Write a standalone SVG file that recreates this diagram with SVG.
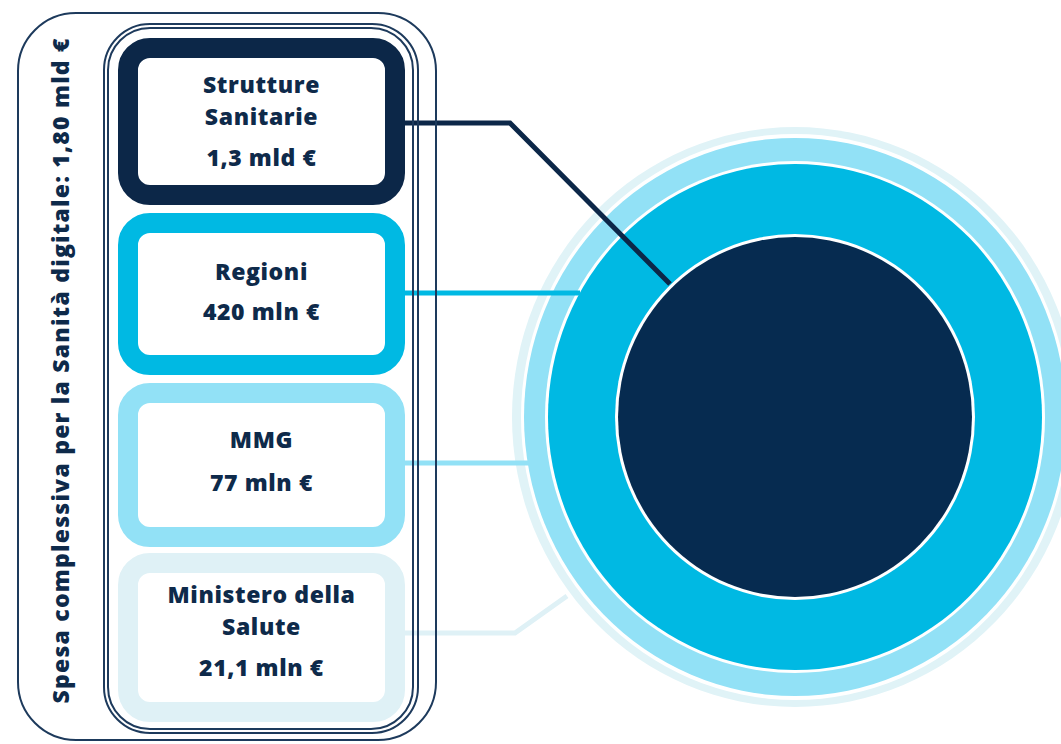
<svg xmlns="http://www.w3.org/2000/svg" width="1061" height="744" viewBox="0 0 1061 744">
<style>
.frame{fill:none;stroke:#1d3a5c;stroke-width:2}
.box{fill:#ffffff;stroke-width:20}
.lbl{font-family:"Open Sans","DejaVu Sans",sans-serif;font-weight:800;font-size:23px;fill:#0e2a4a;text-anchor:middle;letter-spacing:0.6px}
.conn{fill:none;stroke-width:5;stroke-linejoin:miter}
</style>
<rect width="1061" height="744" fill="#ffffff"/>
<g id="rings">
<ellipse cx="795" cy="417" rx="283" ry="290" fill="#e0f3f7"/>
<ellipse cx="795" cy="417" rx="274" ry="283" fill="#ffffff"/>
<ellipse cx="795" cy="417" rx="271" ry="279" fill="#92e1f6"/>
<ellipse cx="795" cy="417" rx="250" ry="256" fill="#ffffff"/>
<ellipse cx="795" cy="417" rx="247" ry="253" fill="#00b9e3"/>
<ellipse cx="795" cy="417" rx="180" ry="183" fill="#ffffff"/>
<ellipse cx="795" cy="417" rx="177" ry="180" fill="#062b50"/>
</g>
<g id="connectors">
<path class="conn" d="M405,123 H510 L670,284" stroke="#0c2748"/>
<path class="conn" d="M405,293 H580" stroke="#00b9e3"/>
<path class="conn" d="M405,463 H529" stroke="#92e1f6"/>
<path class="conn" d="M405,633 H515 L567,596" stroke="#dff1f6"/>
</g>
<g id="panel">
<rect class="frame" x="18" y="13" width="418" height="727" rx="58"/>
<rect class="frame" x="104" y="24" width="314" height="709" rx="46"/>
<rect class="frame" x="108" y="28" width="305" height="701" rx="42" stroke-width="1.5"/>
<text class="lbl" transform="translate(69,371) rotate(-90)" font-size="22" textLength="665" lengthAdjust="spacing" style="letter-spacing:0">Spesa complessiva per la Sanità digitale: 1,80 mld €</text>
</g>
<g id="node-strutture">
<rect class="box" x="128" y="48" width="267" height="147" rx="22" stroke="#0c2748"/>
<text class="lbl" x="261.5" y="93">Strutture</text>
<text class="lbl" x="261.5" y="125">Sanitarie</text>
<text class="lbl" x="261.5" y="166">1,3 mld €</text>
</g>
<g id="node-regioni">
<rect class="box" x="128" y="223" width="267" height="142" rx="22" stroke="#00b9e3"/>
<text class="lbl" x="261.5" y="280">Regioni</text>
<text class="lbl" x="261.5" y="320">420 mln €</text>
</g>
<g id="node-mmg">
<rect class="box" x="128" y="393" width="267" height="144" rx="22" stroke="#92e1f6"/>
<text class="lbl" x="261.5" y="448">MMG</text>
<text class="lbl" x="261.5" y="491">77 mln €</text>
</g>
<g id="node-ministero">
<rect class="box" x="128" y="563" width="267" height="149" rx="22" stroke="#dff1f6"/>
<text class="lbl" x="261.5" y="603">Ministero della</text>
<text class="lbl" x="261.5" y="635">Salute</text>
<text class="lbl" x="261.5" y="676">21,1 mln €</text>
</g>
</svg>
